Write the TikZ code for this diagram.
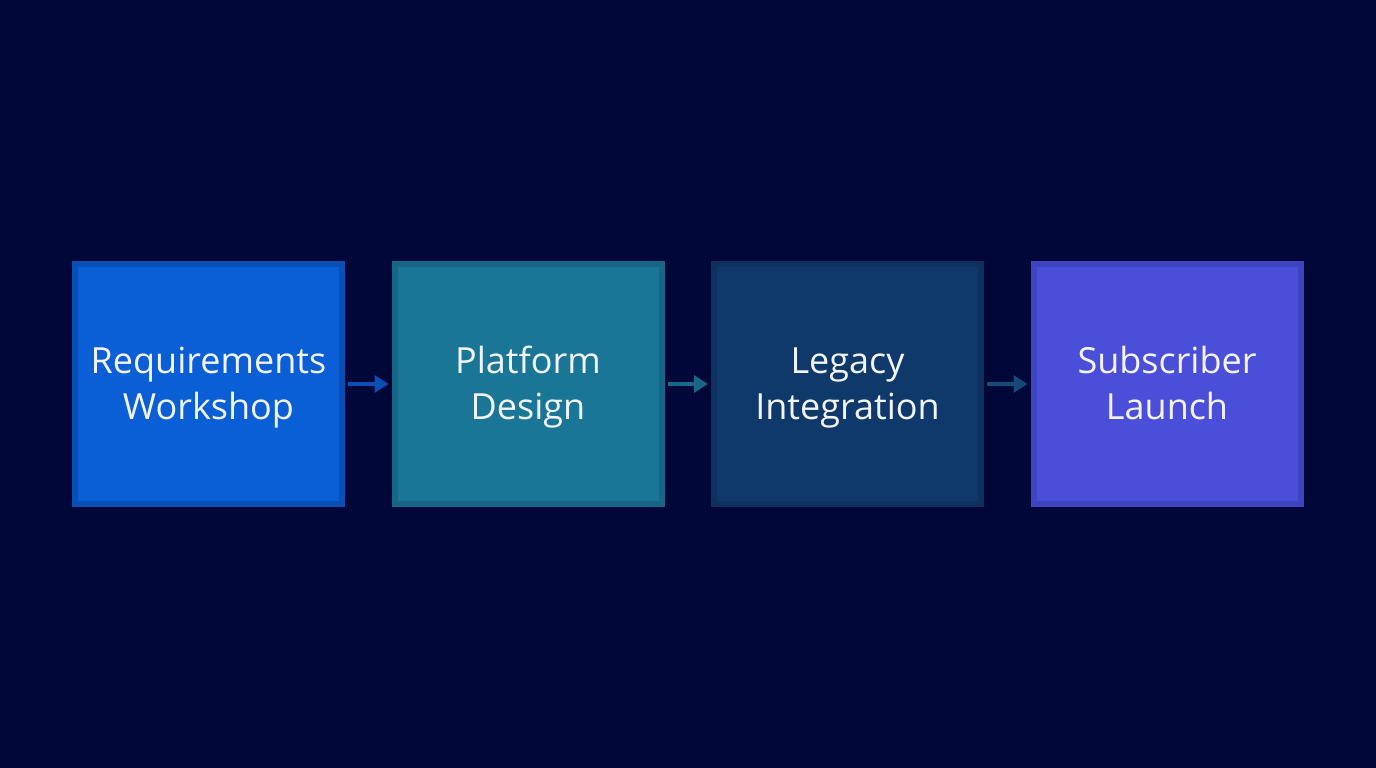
\documentclass[tikz,border=0pt]{standalone}
\usepackage{fontspec}
\setmainfont{Open Sans}
\usetikzlibrary{arrows.meta}
\definecolor{bg}{HTML}{02073A}
\definecolor{fa}{HTML}{0A5ED6}
\definecolor{ba}{HTML}{0A4FB4}
\definecolor{fb}{HTML}{1A7696}
\definecolor{bb}{HTML}{176686}
\definecolor{fc}{HTML}{0E396A}
\definecolor{bc}{HTML}{0D3260}
\definecolor{fd}{HTML}{4A4ED8}
\definecolor{bd}{HTML}{3E43C0}
\definecolor{txt}{HTML}{F2F4FA}
\definecolor{ac}{HTML}{174A78}
\tikzset{
  x=1pt,y=1pt,
  stage/.style={draw, line width=6pt, minimum width=267pt, minimum height=240pt,
    inner sep=0pt},
  label text/.style={text=txt, align=center, font=\fontsize{36}{46}\selectfont, inner sep=0pt},
  flow/.style={line width=4pt, -{Triangle[length=14pt,width=17pt]}}
}
\begin{document}
\begin{tikzpicture}
\fill[bg] (0,0) rectangle (1376,768);
\useasboundingbox (0,0) rectangle (1376,768);
\node[stage, fill=fa, draw=ba] (a) at (208.5,384) {};
\node[stage, fill=fb, draw=bb] (b) at (528,384) {};
\node[stage, fill=fc, draw=bc] (c) at (847.5,384) {};
\node[stage, fill=fd, draw=bd] (d) at (1167,384) {};
\node[label text] (ta) at ([yshift=-3pt]a.center) {Requirements\strut\\Workshop\strut};
\node[label text] (tb) at ([yshift=-3pt]b.center) {Platform\strut\\Design\strut};
\node[label text] (tc) at ([yshift=-3pt]c.center) {Legacy\strut\\Integration\strut};
\node[label text] (td) at ([yshift=-3pt]d.center) {Subscriber\strut\\Launch\strut};
\draw[flow, draw=ba] ([xshift=3pt]a.east) -- ([xshift=-3pt]b.west);
\draw[flow, draw=bb] ([xshift=3pt]b.east) -- ([xshift=-3pt]c.west);
\draw[flow, draw=ac] ([xshift=3pt]c.east) -- ([xshift=-3pt]d.west);
\end{tikzpicture}
\end{document}
